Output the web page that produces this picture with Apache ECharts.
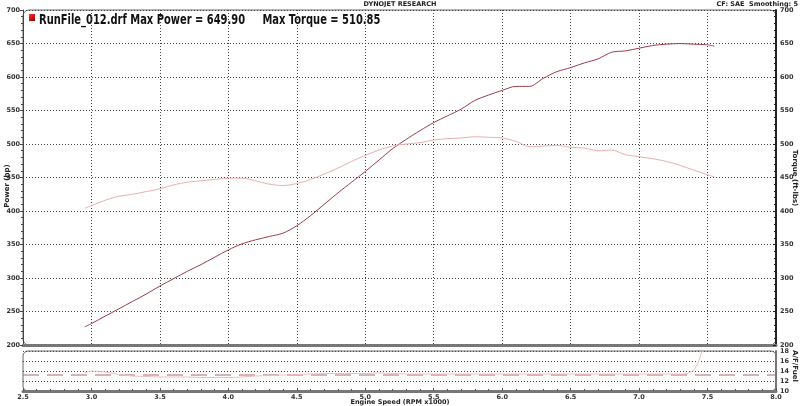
<!DOCTYPE html>
<html>
<head>
<meta charset="utf-8">
<script src="https://cdn.jsdelivr.net/npm/echarts@6/dist/echarts.min.js"></script>
<style>html,body{margin:0;padding:0;background:#fff;}#c{width:800px;height:406px;}</style>
</head>
<body>
<div id="c"></div>
<script>
// ---- data ----
var rpm = [2.95,3.0,3.1,3.2,3.3,3.4,3.5,3.6,3.7,3.8,3.9,4.0,4.1,4.2,4.3,4.4,4.5,4.6,4.7,4.8,4.9,5.0,5.1,5.2,5.3,5.4,5.5,5.6,5.7,5.8,5.9,6.0,6.1,6.2,6.3,6.4,6.5,6.6,6.7,6.8,6.9,7.0,7.1,7.2,7.3,7.4,7.5,7.55];
var power = [227,232,243,254,265,276,288,299,310,320,331,342,351,357,362,367,378,393,410,427,443,459,476,493,507,520,532,542,552,565,573,580,586,586,598,608,614,621,627,637,639,643,647,649,649.9,649,648,646];
var torque = [404,408,416,422,425,429,433,439,443,445,447,449,449,445,440,438,441,447,455,464,474,483,491,497,500,502,506,508,509,510.85,510,509,504,496,497,498,495,494,490,491,484,481,478,474,468,461,454,451];
var afrRpm = [2.95,3.0,3.1,3.2,3.3,3.4,3.5,3.6,3.7,3.8,3.9,4.0,4.1,4.2,4.3,4.4,4.5,4.6,4.7,4.8,4.9,5.0,5.1,5.2,5.3,5.4,5.5,5.6,5.7,5.8,5.9,6.0,6.2,6.4,6.6,6.8,7.0,7.2,7.3,7.35,7.4,7.43,7.46,7.48];
var afr = [13.6,14.0,13.8,13.3,13.0,12.9,12.8,12.8,12.8,12.7,12.7,12.7,12.8,13.0,13.1,13.2,13.3,13.4,13.5,13.5,13.5,13.5,13.6,13.5,13.4,13.4,13.4,13.4,13.4,13.4,13.4,13.4,13.4,13.4,13.4,13.4,13.4,13.4,13.4,13.5,14.2,15.6,18.0,19.0];
var afrTargetRpm = [2.5,8.0];
var afrTarget = [13.2,13.2];
var xTicks = {min:2.5, max:8.0, step:0.5};
var powerTicks = {min:200, max:700, step:50};
var afrTicks = {min:10, max:18, step:2};
var titleText = 'RunFile_012.drf Max Power = 649.90     Max Torque = 510.85';

function zip(a,b){return a.map(function(v,i){return [v,b[i]];});}

var FONT = 'DejaVu Sans';
var lab = {fontFamily:FONT, fontWeight:'bold', fontSize:6.5, color:'#333'};
var dotted = {color:'#444', type:[1,2], width:1};

var chart = echarts.init(document.getElementById('c'), null, {renderer:'canvas'});
chart.setOption({
  animation:false,
  backgroundColor:'#fff',
  grid:[
    {left:23, right:24, top:10, height:335},
    {left:23, right:24, top:351, height:40}
  ],
  xAxis:[
    {gridIndex:0, type:'value', min:xTicks.min, max:xTicks.max, interval:xTicks.step,
     axisLabel:{show:false}, axisTick:{show:false},
     axisLine:{show:true, lineStyle:{color:'#777', width:3}},
     splitLine:{show:true, lineStyle:dotted}},
    {gridIndex:1, type:'value', min:xTicks.min, max:xTicks.max, interval:xTicks.step,
     axisLabel:Object.assign({margin:3, formatter:function(v){return v.toFixed(1);}}, lab),
     axisTick:{show:true, inside:true, length:3, lineStyle:{color:'#555'}},
     minorTick:{show:true, splitNumber:5, length:2, lineStyle:{color:'#555'}},
     axisLine:{show:true, lineStyle:{color:'#777', width:3}},
     splitLine:{show:false}}
  ],
  yAxis:[
    {gridIndex:0, type:'value', position:'left', min:powerTicks.min, max:powerTicks.max, interval:powerTicks.step,
     axisLabel:Object.assign({margin:3}, lab),
     axisTick:{show:true, length:3, lineStyle:{color:'#444'}},
     minorTick:{show:true, splitNumber:5, length:2, lineStyle:{color:'#444'}},
     axisLine:{show:true, lineStyle:{color:'#444', width:1}},
     splitLine:{show:true, lineStyle:dotted}},
    {gridIndex:0, type:'value', position:'right', min:powerTicks.min, max:powerTicks.max, interval:powerTicks.step,
     axisLabel:Object.assign({margin:4}, lab),
     axisTick:{show:true, inside:true, length:3, lineStyle:{color:'#222'}},
     minorTick:{show:true, splitNumber:5, length:2, lineStyle:{color:'#222'}},
     axisLine:{show:true, lineStyle:{color:'#222', width:2}},
     splitLine:{show:false}},
    {gridIndex:1, type:'value', position:'right', min:afrTicks.min, max:afrTicks.max, interval:afrTicks.step,
     axisLabel:Object.assign({margin:4}, lab),
     axisTick:{show:false},
     axisLine:{show:true, lineStyle:{color:'#777', width:2}},
     splitLine:{show:true, lineStyle:dotted}}
  ],
  graphic:[
    {type:'rect', z:-1, shape:{x:23, y:10, width:753, height:335, r:6}, style:{fill:'none', stroke:'#666', lineWidth:1}},
    {type:'rect', z:-1, shape:{x:23, y:351, width:753, height:40, r:5}, style:{fill:'none', stroke:'#666', lineWidth:1}},
    {type:'rect', shape:{x:29, y:14, width:6, height:7}, style:{fill:new echarts.graphic.LinearGradient(0,0,1,1,[{offset:0,color:'#ff3030'},{offset:1,color:'#a00000'}])}},
    {type:'text', x:39, y:20.5, scaleX:0.735, style:{text:titleText, font:'bold 13.5px "DejaVu Sans"', fill:'#111', verticalAlign:'middle'}},
    {type:'text', x:400, y:4, style:{text:'DYNOJET RESEARCH', font:'bold 6.5px "DejaVu Sans"', fill:'#222', align:'center', verticalAlign:'middle'}},
    {type:'text', x:798, y:4, style:{text:'CF: SAE  Smoothing: 5', font:'bold 6.5px "DejaVu Sans"', fill:'#222', align:'right', verticalAlign:'middle'}},
    {type:'text', x:7, y:186, rotation:Math.PI/2, style:{text:'Power (hp)', font:'bold 7px "DejaVu Sans"', fill:'#222', align:'center', verticalAlign:'middle'}},
    {type:'text', x:795, y:178, rotation:-Math.PI/2, style:{text:'Torque (ft-lbs)', font:'bold 7px "DejaVu Sans"', fill:'#222', align:'center', verticalAlign:'middle'}},
    {type:'text', x:795, y:366, rotation:-Math.PI/2, style:{text:'A/F/Fuel', font:'bold 7px "DejaVu Sans"', fill:'#222', align:'center', verticalAlign:'middle'}},
    {type:'text', x:400, y:402.5, style:{text:'Engine Speed (RPM x1000)', font:'bold 6.5px "DejaVu Sans"', fill:'#222', align:'center', verticalAlign:'middle'}}
  ],
  series:[
    {type:'line', name:'Power', xAxisIndex:0, yAxisIndex:0, data:zip(rpm,power), showSymbol:false, smooth:0.3,
     lineStyle:{color:'#9c3c4c', width:1}},
    {type:'line', name:'Torque', xAxisIndex:0, yAxisIndex:1, data:zip(rpm,torque), showSymbol:false, smooth:0.3,
     lineStyle:{color:'#eab0b0', width:1}},
    {type:'line', name:'AFR target', xAxisIndex:1, yAxisIndex:2, data:zip(afrTargetRpm,afrTarget), showSymbol:false,
     lineStyle:{color:'#b06868', width:1, type:[16,8]}},
    {type:'line', name:'AFR', xAxisIndex:1, yAxisIndex:2, data:zip(afrRpm,afr), showSymbol:false, smooth:0.3, clip:true,
     lineStyle:{color:'#f0bcbc', width:1}}
  ]
});
</script>
</body>
</html>
